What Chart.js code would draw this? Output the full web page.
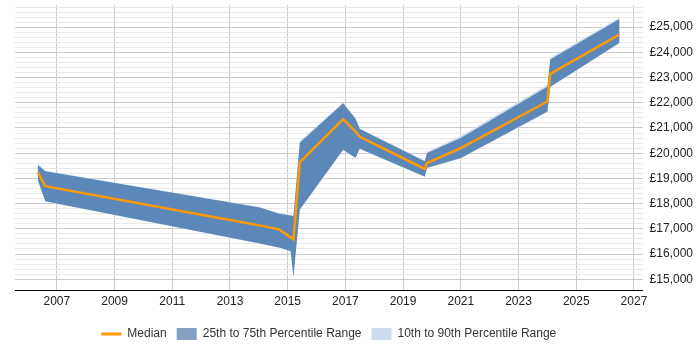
<!DOCTYPE html>
<html>
<head>
<meta charset="utf-8">
<script src="https://cdn.jsdelivr.net/npm/chart.js@4.4.1/dist/chart.umd.min.js"></script>
<style>
    html, body { margin: 0; padding: 0; background: #fff; }
    #wrap { width: 700px; height: 350px; }
</style>
</head>
<body>
<div id="wrap"><canvas id="salary-chart"></canvas></div>
<script>
    // Data
    var years  = [2006.34, 2006.6, 2014.04, 2014.7, 2015.1, 2015.2, 2015.42, 2016.92, 2017.35, 2017.5, 2019.75, 2019.83, 2021.0, 2024.0, 2024.1, 2026.5];
    var median = [19240, 18690, 17130, 16980, 16660, 16580, 19640, 21350, 20860, 20650, 19375, 19610, 20205, 22050, 23150, 24710];
    var p25    = [18950, 18090, 16420, 16260, 16120, 15100, 17770, 20140, 19820, 20180, 19080, 19420, 19810, 21650, 22640, 24380];
    var p75    = [19520, 19280, 17850, 17600, 17530, 17500, 20410, 21980, 21370, 20960, 19680, 20010, 20600, 22640, 23720, 25320];
    var p10    = [18900, 18080, 16410, 16250, 16100, 15080, 17750, 20130, 19800, 20170, 19060, 19400, 19790, 21630, 22620, 24360];
    var p90    = [19600, 19300, 17860, 17620, 17560, 17540, 20480, 22000, 21390, 20980, 19700, 20060, 20680, 22720, 23780, 25380];

    var xTicks = [2007, 2009, 2011, 2013, 2015, 2017, 2019, 2021, 2023, 2025, 2027];
    var yTicks = [15000, 16000, 17000, 18000, 19000, 20000, 21000, 22000, 23000, 24000, 25000];

    var orange = "#ff9900";
    var darkBand = "rgba(60, 112, 170, 0.78)";
    var darkKey = "#82a1c4";
    var lightBand = "#cddcee";
    var font = { family: "'Liberation Sans', Arial, sans-serif", size: 12 };

    function pts(vals) {
        return vals.map(function (v, i) { return { x: years[i], y: v }; });
    }

    var band = { borderWidth: 0, pointRadius: 0, pointHoverRadius: 0, tension: 0 };

    var ctx = document.getElementById("salary-chart").getContext("2d");
    var myChart = new Chart(ctx, {
        type: "line",
        data: {
            datasets: [
                { label: "Median", data: pts(median), borderColor: orange, borderWidth: 2.5, pointRadius: 0, fill: false, tension: 0 },
                Object.assign({ label: "p25", data: pts(p25), fill: false }, band),
                Object.assign({ label: "p75", data: pts(p75), fill: "-1", backgroundColor: darkBand }, band),
                Object.assign({ label: "p10", data: pts(p10), fill: false }, band),
                Object.assign({ label: "p90", data: pts(p90), fill: "-1", backgroundColor: lightBand }, band)
            ]
        },
        options: {
            responsive: true,
            maintainAspectRatio: false,
            animation: false,
            layout: { padding: { left: 15, top: 5, right: 0, bottom: 0 } },
            plugins: {
                tooltip: { enabled: false },
                legend: {
                    position: "bottom",
                    fullSize: false, // centre the keys under the plot area
                    // empty tiny title just pushes the keys down a little
                    title: { display: true, text: "", padding: 0, font: { size: 4 } },
                    labels: {
                        usePointStyle: true,
                        pointStyleWidth: 20,
                        boxHeight: 12,
                        padding: 10,
                        color: "#333",
                        font: font,
                        generateLabels: function () {
                            return [
                                { text: "Median", pointStyle: "line", strokeStyle: orange, fillStyle: orange, lineWidth: 3, fontColor: "#333" },
                                { text: "25th to 75th Percentile Range", pointStyle: "rect", strokeStyle: darkKey, fillStyle: darkKey, lineWidth: 0, fontColor: "#333" },
                                { text: "10th to 90th Percentile Range", pointStyle: "rect", strokeStyle: lightBand, fillStyle: lightBand, lineWidth: 0, fontColor: "#333" }
                            ];
                        }
                    }
                }
            },
            scales: {
                x: {
                    type: "linear",
                    min: 2005.55,
                    max: 2027.3,
                    afterBuildTicks: function (scale) {
                        scale.ticks = xTicks.map(function (v) { return { value: v }; });
                    },
                    ticks: {
                        autoSkip: false,
                        maxRotation: 0,
                        padding: 4,
                        color: "#222",
                        font: font,
                        callback: function (v) { return String(v); }
                    },
                    grid: { color: "#cccccc", drawTicks: false },
                    border: { color: "#000", width: 1 }
                },
                y: {
                    position: "right",
                    min: 14540,
                    max: 25880,
                    afterBuildTicks: function (scale) {
                        // minor gridlines every 200 from the lowest label up
                        var t = [];
                        for (var v = 15000; v <= 25800; v += 200) t.push({ value: v });
                        scale.ticks = t;
                    },
                    afterFit: function (scale) {
                        // top tick has no label, so no room is needed for it
                        scale.paddingTop = 0;
                    },
                    ticks: {
                        autoSkip: false,
                        padding: 7,
                        color: "#222",
                        font: font,
                        callback: function (v) {
                            return yTicks.indexOf(v) >= 0 ? "£" + v.toLocaleString("en-GB") : "";
                        }
                    },
                    grid: {
                        drawTicks: false,
                        color: function (c) {
                            return yTicks.indexOf(c.tick.value) >= 0 ? "#cccccc" : "#e8e8e8";
                        }
                    },
                    border: { display: false }
                }
            }
        }
    });
</script>
</body>
</html>
